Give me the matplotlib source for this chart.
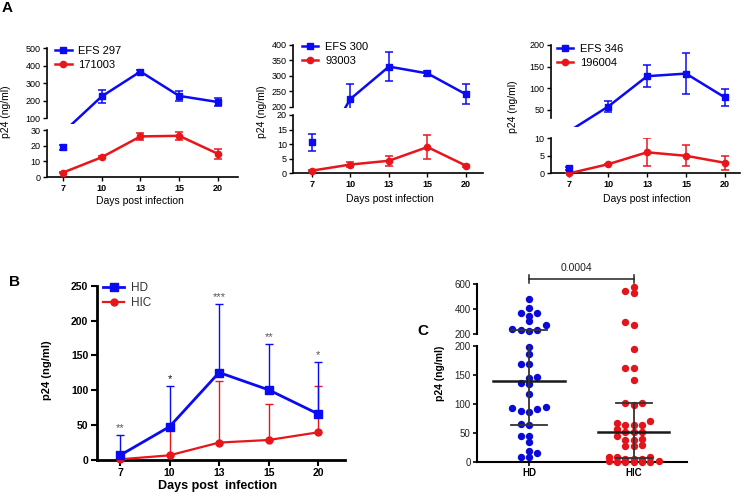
import numpy as np
import matplotlib.pyplot as plt
from matplotlib.lines import Line2D

plt.rcParams['font.family'] = ['Liberation Sans', 'DejaVu Sans']

W, H = 747, 493
fig = plt.figure(figsize=(W / 100, H / 100), dpi=100)


def rect(x0, y0, x1, y1):
    # pixel box (origin top-left) -> figure fraction
    return [x0 / W, 1 - y1 / H, (x1 - x0) / W, (y1 - y0) / H]


BLUE = '#0a0af5'
RED = '#e8161b'

days = ['7', '10', '13', '15', '20']

# ---- Panel A data (mean, sd) ----
a1_names = ['EFS 297', '171003']
a1_blue = [19, 225, 367, 228, 193]
a1_blue_err = [1.5, 38, 8, 28, 22]
a1_red = [2.8, 12.6, 25.9, 26.3, 14.8]
a1_red_err = [0.3, 0.6, 2.5, 2.5, 3.0]

a2_names = ['EFS 300', '93003']
a2_blue = [10.6, 225, 330, 308, 240]
a2_blue_err = [3.0, 50, 48, 7, 32]
a2_red = [0.9, 3.0, 4.3, 9.0, 2.6]
a2_red_err = [0.2, 0.8, 1.7, 4.1, 0.3]

a3_names = ['EFS 346', '196004']
a3_blue = [1.4, 58, 128, 134, 79]
a3_blue_err = [0.5, 13, 25, 48, 20]
a3_red = [0.0, 2.6, 6.0, 5.0, 3.0]
a3_red_err = [0.1, 0.2, 4.0, 3.0, 2.0]

# ---- Panel B data (mean, upper sd) ----
b_names = ['HD', 'HIC']
b_hd = [6.7, 47.8, 125.5, 100.6, 66]
b_hd_err = [29, 58.7, 98, 65.5, 74]
b_hic = [1, 6.7, 25, 28.7, 39.7]
b_hic_err = [10, 40, 89, 52, 66]
b_stars = ['**', '*', '***', '**', '*']

# ---- Panel C data (individual values) ----
c_groups = ['HD', 'HIC']
c_hd = [480, 410, 368, 368, 347, 301, 269, 238, 232, 230, 226,
        199, 186, 169, 169, 146, 144, 137, 134, 118, 93, 88, 86, 91, 94,
        63, 65, 44, 45, 34, 16, 19, 8, 8]
c_hic = [578, 546, 526, 298, 272,
         195, 162, 162, 142, 102, 98, 102, 71, 64, 64, 64, 67, 57,
         51, 51, 51, 44, 39, 38, 38, 29, 28, 28, 9, 9, 9, 6, 6, 6,
         0, 0, 0, 0, 0, 2, 2]
c_pvalue = '0.0004'


def draw_series(ax, vals, errs, color, marker, ms, lo, hi, mask_line):
    x = np.arange(len(vals))
    v = np.asarray(vals, float)
    e = np.asarray(errs, float)
    m = (v >= lo) & (v <= hi)
    lv = np.where(m, v, np.nan) if mask_line else v
    ax.plot(x, lv, color=color, lw=1.8, zorder=3)
    ax.errorbar(x[m], v[m], yerr=e[m], fmt='none', ecolor=color,
                elinewidth=1.1, capsize=3, capthick=1.1, zorder=3)
    ax.plot(x[m], v[m], ls='none', marker=marker, ms=ms, color=color,
            clip_on=False, zorder=4)


def panel_a(cfg, blue, blue_err, red, red_err, names):
    x0, x1 = cfg['x']
    lo = fig.add_axes(rect(x0, cfg['lo_top'], x1, cfg['base']))
    lo.set_ylim(0, cfg['lo_max'])
    lo.set_xlim(*cfg['xlim'])
    # upper segment: limits extend a little below the spine end
    top_v, sb_v = cfg['up_top_v'], cfg['up_spine_v']
    upp = (top_v - sb_v) / (cfg['up_spine'] - cfg['up_top'])
    bot_v = sb_v - (cfg['up_clip'] - cfg['up_spine']) * upp
    up = fig.add_axes(rect(x0, cfg['up_top'], x1, cfg['up_clip']))
    up.set_ylim(bot_v, top_v)
    up.set_xlim(*cfg['xlim'])
    up.patch.set_alpha(0)
    for ax in (lo, up):
        for s in ('top', 'right'):
            ax.spines[s].set_visible(False)
        ax.spines['left'].set_linewidth(1.2)
        ax.tick_params(axis='y', length=3, width=1, labelsize=6.5, pad=1.5)
    up.spines['bottom'].set_visible(False)
    up.spines['left'].set_bounds(sb_v, top_v)
    up.set_xticks([])
    up.set_yticks(cfg['up_ticks'])
    lo.set_yticks(cfg['lo_ticks'])
    lo.spines['bottom'].set_linewidth(1.2)
    lo.set_xticks(range(len(days)))
    lo.set_xticklabels(days, fontweight='bold', fontsize=6.5)
    lo.tick_params(axis='x', length=3, width=1, pad=2)
    for vals, errs, color, mk, ms in ((red, red_err, RED, 'o', 4.5),
                                      (blue, blue_err, BLUE, 's', 5)):
        draw_series(lo, vals, errs, color, mk, ms, 0, cfg['lo_max'], True)
        if max(vals) > sb_v:
            draw_series(up, vals, errs, color, mk, ms, sb_v, top_v, False)
    handles = [Line2D([], [], color=BLUE, marker='s', ms=5, lw=1.8),
               Line2D([], [], color=RED, marker='o', ms=4.5, lw=1.8)]
    lx, ly = cfg['leg']
    up.legend(handles, names, loc='upper left',
              bbox_to_anchor=(lx / W, 1 - ly / H), bbox_transform=fig.transFigure,
              frameon=False, fontsize=8, handlelength=1.5, handletextpad=0.6,
              borderpad=0, borderaxespad=0, labelspacing=0.35)
    yx, yy = cfg['ylab']
    fig.text(yx / W, 1 - yy / H, 'p24 (ng/ml)', rotation=90, ha='center',
             va='center', fontsize=7.5)
    xx, xy = cfg['xlab']
    fig.text(xx / W, 1 - xy / H, 'Days post infection', ha='center',
             va='center', fontsize=7.5)


cfg1 = dict(x=(46.7, 238), lo_top=130, base=177, lo_max=30, lo_ticks=[0, 10, 20, 30],
            up_top=48.3, up_spine=118.3, up_clip=124, up_top_v=500, up_spine_v=100,
            up_ticks=[100, 200, 300, 400, 500], xlim=(-0.42, 4.52),
            leg=(55, 46), ylab=(6, 112), xlab=(140, 201.5))
cfg2 = dict(x=(293.3, 483), lo_top=115, base=173.3, lo_max=20, lo_ticks=[0, 5, 10, 15, 20],
            up_top=45, up_spine=106.7, up_clip=108, up_top_v=400, up_spine_v=200,
            up_ticks=[200, 250, 300, 350, 400], xlim=(-0.48, 4.44),
            leg=(301.7, 42), ylab=(261.7, 112), xlab=(390, 199))
cfg3 = dict(x=(550.7, 740), lo_top=138.3, base=173.3, lo_max=10, lo_ticks=[0, 5, 10],
            up_top=45, up_spine=117.7, up_clip=127, up_top_v=200, up_spine_v=32.2,
            up_ticks=[50, 100, 150, 200], xlim=(-0.48, 4.39),
            leg=(556.7, 44), ylab=(512.7, 107), xlab=(646.7, 199.3))

panel_a(cfg1, a1_blue, a1_blue_err, a1_red, a1_red_err, a1_names)
panel_a(cfg2, a2_blue, a2_blue_err, a2_red, a2_red_err, a2_names)
panel_a(cfg3, a3_blue, a3_blue_err, a3_red, a3_red_err, a3_names)

# ---------------- Panel B ----------------
axb = fig.add_axes(rect(96.7, 285.7, 345, 460))
xb = np.arange(len(days))
axb.errorbar(xb, b_hic, yerr=[np.zeros(len(b_hic)), b_hic_err], fmt='none',
             ecolor=RED, elinewidth=1, capsize=3, capthick=1, zorder=2)
axb.errorbar(xb, b_hd, yerr=[np.zeros(len(b_hd)), b_hd_err], fmt='none',
             ecolor=BLUE, elinewidth=1, capsize=3, capthick=1, zorder=3)
axb.plot(xb, b_hic, color=RED, lw=1.6, marker='o', ms=5, clip_on=False, zorder=3,
         label=b_names[1])
axb.plot(xb, b_hd, color=BLUE, lw=2, marker='s', ms=6, clip_on=False, zorder=4,
         label=b_names[0])
for i, s in enumerate(b_stars):
    axb.annotate(s, (xb[i], b_hd[i] + b_hd_err[i]), xytext=(0, 1.5),
                 textcoords='offset points', ha='center', va='bottom', fontsize=8,
                 color='#111111' if i == 1 else '#555555')
axb.set_xlim(-0.47, 4.54)
axb.set_ylim(0, 250)
axb.set_yticks([0, 50, 100, 150, 200, 250])
axb.set_xticks(xb)
axb.set_xticklabels(days)
for s in ('top', 'right'):
    axb.spines[s].set_visible(False)
for s in ('left', 'bottom'):
    axb.spines[s].set_linewidth(2)
axb.tick_params(length=4, width=1.5, labelsize=7.5, pad=2)
for lab in axb.get_xticklabels() + axb.get_yticklabels():
    lab.set_fontweight('bold')
hb = [Line2D([], [], color=BLUE, marker='s', ms=6, lw=2),
      Line2D([], [], color=RED, marker='o', ms=5, lw=1.6)]
leg = axb.legend(hb, b_names, loc='upper left', bbox_to_anchor=(103 / W, 1 - 282 / H),
                 bbox_transform=fig.transFigure, frameon=False, fontsize=8.5,
                 handlelength=1.8, handletextpad=0.6, borderpad=0, borderaxespad=0,
                 labelspacing=0.25)
for t in leg.get_texts():
    t.set_color('#333333')
fig.text(46.7 / W, 1 - 370 / H, 'p24 (ng/ml)', rotation=90, ha='center', va='center',
         fontsize=8, fontweight='bold')
fig.text(218 / W, 1 - 486.5 / H, 'Days post  infection', ha='center', va='center',
         fontsize=9, fontweight='bold')

# ---------------- Panel C ----------------
cl = fig.add_axes(rect(477, 346, 686.7, 462))
cu = fig.add_axes(rect(477, 284, 686.7, 334))
for ax in (cl, cu):
    ax.set_xlim(-0.495, 1.505)
    for s in ('top', 'right'):
        ax.spines[s].set_visible(False)
    ax.spines['left'].set_linewidth(1.5)
    ax.tick_params(axis='y', length=3, width=1.2, labelsize=7, pad=1.5,
                   labelcolor='#222222')
cl.set_ylim(0, 200)
cu.set_ylim(200, 600)
cu.patch.set_alpha(0)
cl.set_yticks([0, 50, 100, 150, 200])
cu.set_yticks([200, 400, 600])
cu.spines['bottom'].set_visible(False)
cu.set_xticks([])
cl.spines['bottom'].set_linewidth(1.5)
cl.set_xticks([0, 1])
cl.set_xticklabels(c_groups, fontweight='bold', fontsize=7)
cl.tick_params(axis='x', length=3, width=1.2, pad=1.5)


def swarm(vals, pos, split=200, step=8.3, gap=5.6, kmax=3):
    # beeswarm on fixed slots; if no slot is free within kmax, take the least crowded
    v = np.asarray(vals, float)
    pts = np.column_stack([np.full(len(v), pos), v])
    ypix = np.where(v > split, cu.transData.transform(pts)[:, 1],
                    cl.transData.transform(pts)[:, 1])
    ppu = cl.transData.transform((1, 0))[0] - cl.transData.transform((0, 0))[0]
    cands = [0]
    for k in range(1, kmax + 1):
        cands += [-k, k]
    offs = np.zeros(len(v))
    px, py = [], []
    for i in np.argsort(ypix):
        best, best_d = 0, -1.0
        for k in cands:
            dx = k * step
            dmin = min([np.hypot(dx - a, ypix[i] - b) for a, b in zip(px, py)] or [1e9])
            if dmin >= gap:
                best = dx
                break
            if dmin > best_d + 1e-6:
                best, best_d = dx, dmin
        offs[i] = best
        px.append(best)
        py.append(ypix[i])
    return pos + offs / ppu


for pos, vals, color in ((0, c_hd, '#0a0ad8'), (1, c_hic, '#e3141b')):
    v = np.asarray(vals, float)
    xs = swarm(v, pos)
    hi = v > 200
    cu.plot(xs[hi], v[hi], 'o', ms=4.3, color=color, clip_on=False, zorder=3)
    cl.plot(xs[~hi], v[~hi], 'o', ms=4.3, color=color, clip_on=False, zorder=3)
    q1, med, q3 = np.percentile(v, [25, 50, 75], method='weibull')
    for ax in (cl, cu):
        ax.plot([pos - 0.34, pos + 0.34], [med, med], color='#1a1a1a', lw=1.8, zorder=4)
        ax.plot([pos - 0.17, pos + 0.17], [q1, q1], color='#333333', lw=1.3, zorder=4)
        ax.plot([pos - 0.17, pos + 0.17], [q3, q3], color='#333333', lw=1.3, zorder=4)
        ax.plot([pos, pos], [q1, q3], color='#333333', lw=1.3, zorder=4)

# significance bracket above the groups
cu.plot([0, 1], [642, 642], color='#222222', lw=1.1, clip_on=False)
cu.plot([0, 0], [610, 672], color='#222222', lw=1.1, clip_on=False)
cu.plot([1, 1], [610, 672], color='#222222', lw=1.1, clip_on=False)
cu.text(0.45, 730, c_pvalue, ha='center', va='center', fontsize=7.5, color='#222222')
fig.text(440 / W, 1 - 373 / H, 'p24 (ng/ml)', rotation=90, ha='center', va='center',
         fontsize=7.5, fontweight='bold')

# panel letters
fig.text(7 / W, 1 - 8 / H, 'A', ha='center', va='center', fontsize=11, fontweight='bold')
fig.text(15 / W, 1 - 282 / H, 'B', ha='center', va='center', fontsize=11, fontweight='bold')
fig.text(423 / W, 1 - 331 / H, 'C', ha='center', va='center', fontsize=11, fontweight='bold')

fig.savefig('out.png', dpi=100)
